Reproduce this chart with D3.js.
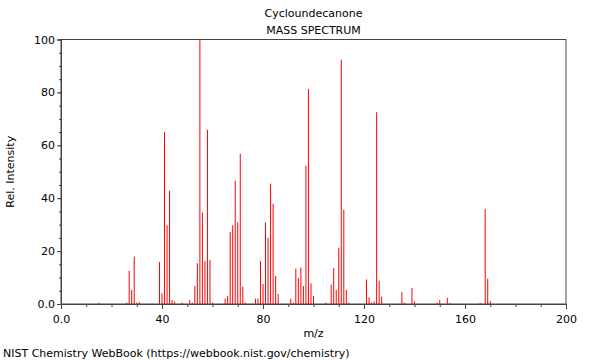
<!DOCTYPE html>
<html>
<head>
<meta charset="utf-8">
<script src="https://cdn.jsdelivr.net/npm/d3@7"></script>
<style>
  body { margin: 0; background: #fff; }
  svg text { font-family: "DejaVu Sans", sans-serif; fill: #000; }
</style>
</head>
<body>
<svg id="chart" width="600" height="360"></svg>
<script>
// peaks
const mzValues = [15, 26, 27, 28, 29, 30, 31, 39, 40, 41, 42, 43, 44, 45, 48, 51, 52, 53, 54, 55, 56, 57, 58, 59, 60,
  65, 66, 67, 68, 69, 70, 71, 72, 73, 77, 78, 79, 80, 81, 82, 83, 84, 85, 86,
  91, 92, 93, 94, 95, 96, 97, 98, 99, 100, 105, 107, 108, 109, 110, 111, 112, 113, 114,
  121, 122, 123, 124, 125, 126, 127, 135, 136, 139, 140, 149, 150, 153, 154, 166, 168, 169, 170];
const intensities = [0.5, 0.5, 12.6, 5.3, 17.9, 0.5, 0.7, 15.9, 4.0, 65.0, 29.8, 42.8, 1.5, 0.9, 0.5, 1.5, 0.5, 6.8, 15.4, 100, 34.6, 16.2, 65.9, 16.7, 0.5,
  2.0, 3.0, 27.3, 29.8, 46.6, 30.9, 56.8, 6.6, 0.5, 2.0, 2.0, 16.2, 7.6, 30.8, 25.0, 45.5, 37.9, 10.6, 3.8,
  2.0, 0.5, 13.4, 9.8, 13.8, 6.8, 52.3, 81.3, 7.8, 3.0, 0.5, 7.3, 13.6, 5.3, 21.3, 92.4, 35.6, 5.3, 0.5,
  9.3, 2.5, 0.5, 1.0, 72.5, 8.8, 2.8, 4.5, 0.5, 6.1, 1.0, 0.5, 1.5, 2.3, 0.4, 0.4, 35.9, 9.6, 1.1];
const xTicks = [0, 40, 80, 120, 160, 200];
const yTicks = [0, 20, 40, 60, 80, 100];

const peaks = mzValues.map((m, i) => ({ mz: m, value: intensities[i] }));

const margin = { left: 61, right: 34, top: 39.5, bottom: 56 };
const width = 600, height = 360;

const svg = d3.select("#chart");

const xScale = d3.scaleLinear().domain([0, 200]).range([margin.left, width - margin.right]);
const yScale = d3.scaleLinear().domain([0, 100]).range([height - margin.bottom, margin.top]);

// frame
svg.append("rect")
  .attr("x", xScale(0))
  .attr("y", yScale(100))
  .attr("width", xScale(200) - xScale(0))
  .attr("height", yScale(0) - yScale(100))
  .attr("fill", "none")
  .attr("stroke", "#444")
  .attr("stroke-width", 1);

// peaks (thin lines, left anti-aliased like the original)
svg.append("g")
  .selectAll("line")
  .data(peaks)
  .join("line")
  .attr("x1", (d) => xScale(d.mz))
  .attr("x2", (d) => xScale(d.mz))
  .attr("y1", yScale(0))
  .attr("y2", (d) => yScale(d.value))
  .attr("stroke", "#ff0000")
  .attr("stroke-width", 1);

// minor ticks
const xAxisMinor = d3.axisBottom(xScale).tickValues(d3.range(0, 201, 10)).tickSize(3).tickFormat("");
const yAxisMinor = d3.axisLeft(yScale).tickValues(d3.range(0, 101, 5)).tickSize(2).tickFormat("");

const fmt = (d) => (d === 0 ? "0.0" : `${d}`);
const xAxis = d3.axisBottom(xScale).tickValues(xTicks).tickSize(5).tickPadding(6).tickFormat(fmt);
const yAxis = d3.axisLeft(yScale).tickValues(yTicks).tickSize(4).tickPadding(2).tickFormat(fmt);

[xAxisMinor, xAxis].forEach((ax) => {
  svg.append("g")
    .attr("transform", `translate(0, ${yScale(0)})`)
    .call(ax)
    .call((g) => g.select(".domain").attr("stroke", "#444"))
    .call((g) => g.selectAll("line").attr("stroke", "#444"))
    .call((g) => g.selectAll("text").attr("font-size", 11).attr("font-family", "DejaVu Sans"));
});
[yAxisMinor, yAxis].forEach((ax) => {
  svg.append("g")
    .attr("transform", `translate(${xScale(0)}, 0)`)
    .call(ax)
    .call((g) => g.select(".domain").attr("stroke", "#444"))
    .call((g) => g.selectAll("line").attr("stroke", "#444"))
    .call((g) => g.selectAll("text").attr("font-size", 11).attr("font-family", "DejaVu Sans"));
});

// titles
const cx = (xScale(0) + xScale(200)) / 2;
svg.append("text").attr("x", cx).attr("y", 17).attr("text-anchor", "middle")
  .style("font-size", "11px").text("Cycloundecanone");
svg.append("text").attr("x", cx).attr("y", 34).attr("text-anchor", "middle")
  .style("font-size", "11px").text("MASS SPECTRUM");
svg.append("text").attr("x", cx).attr("y", 337).attr("text-anchor", "middle")
  .style("font-size", "11px").text("m/z");
svg.append("text")
  .attr("transform", `translate(14, ${(yScale(0) + yScale(100)) / 2}) rotate(-90)`)
  .attr("text-anchor", "middle")
  .style("font-size", "11px").text("Rel. Intensity");
svg.append("text").attr("x", 3).attr("y", 357)
  .style("font-size", "11px").text("NIST Chemistry WebBook (https://webbook.nist.gov/chemistry)");
</script>
</body>
</html>
